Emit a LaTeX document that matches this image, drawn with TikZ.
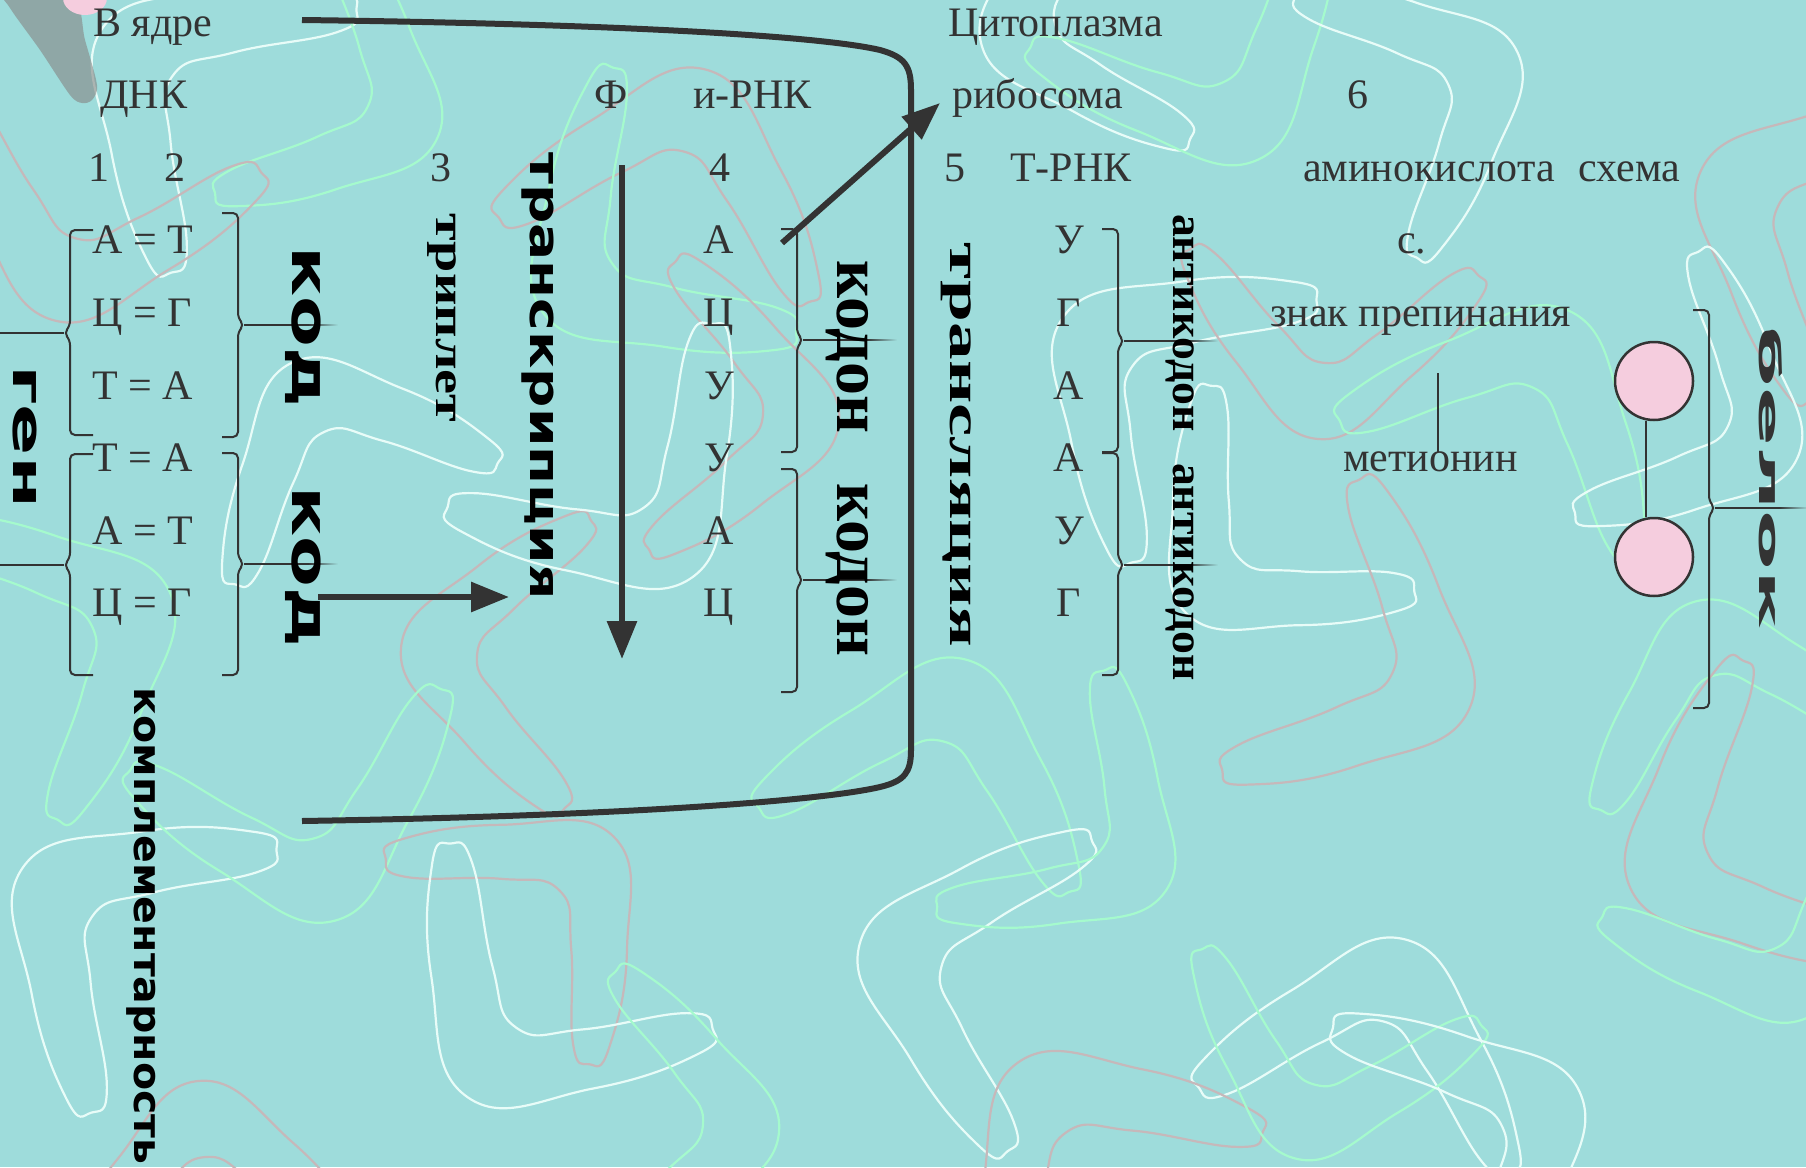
\documentclass[tikz,border=0pt]{standalone}
\usepackage{fontspec}
\usepackage{graphicx}
\setmainfont{Liberation Serif}
\newfontfamily\widefont{DejaVu Sans}
\usetikzlibrary{arrows.meta}

\definecolor{sea}{RGB}{158,220,219}
\definecolor{ink}{RGB}{51,51,51}
\definecolor{rose}{RGB}{245,205,222}
\definecolor{sqw}{RGB}{232,252,248}
\definecolor{sqg}{RGB}{165,250,205}
\definecolor{sqp}{RGB}{198,184,186}
\definecolor{leaf}{RGB}{133,133,131}

\tikzset{boomerang/.pic={
  \draw[line width=2.2pt] plot[smooth cycle,tension=0.8] coordinates
    {(-15,-15) (110,-30) (220,-10) (238,12) (215,30) (110,32) (45,45)
     (32,110) (30,215) (10,238) (-12,220) (-28,110)};
}}

\begin{document}
\begin{tikzpicture}[x=1pt,y=-1pt,>={Triangle[length=38pt,width=29pt]},
    txt/.style={inner sep=0pt,text=ink,font=\fontsize{42}{48}\selectfont},
    sansword/.style={inner sep=0pt,rotate=-90,anchor=base,text=black,
                     font=\widefont\bfseries\fontsize{#1}{#1}\selectfont},
    serifword/.style={inner sep=0pt,rotate=-90,anchor=base,text=black,
                      font=\bfseries\fontsize{#1}{#1}\selectfont},
    thick arrow/.style={->,line width=6pt,draw=ink,fill=ink},
    brace line/.style={line width=2pt,draw=ink,rounded corners=5pt},
    ball/.style={circle,draw=ink,line width=2.5pt,fill=rose,minimum size=78pt,inner sep=0pt}]

  \fill[sea] (0,0) rectangle (1806,1167);
  \useasboundingbox (0,0) rectangle (1806,1167);

  % background squiggles
  \begin{scope}
    \clip (0,0) rectangle (1806,1167);
    \foreach \x/\y/\a/\s/\c in {120/40/10/1.0/sqw, 420/130/200/0.9/sqg, 700/90/300/1.0/sqp,
        1000/40/60/0.9/sqw, 1250/140/160/1.0/sqg, 1500/60/250/0.9/sqw, 1720/180/20/1.0/sqp,
        60/300/120/1.0/sqp, 300/380/340/0.9/sqw, 560/300/80/1.0/sqg, 820/420/220/0.9/sqp,
        1080/330/10/1.0/sqw, 1320/420/130/0.9/sqp, 1560/330/290/1.0/sqg, 1780/450/200/0.9/sqw,
        150/600/250/1.0/sqg, 420/650/40/0.9/sqp, 680/560/170/1.0/sqw, 960/680/300/1.0/sqg,
        1200/600/90/0.9/sqw, 1450/700/200/1.0/sqp, 1700/620/330/0.9/sqg, 40/880/10/1.0/sqw,
        330/900/150/1.0/sqg, 600/850/270/0.9/sqp, 880/950/30/1.0/sqw, 1150/880/190/0.9/sqg,
        1400/960/300/1.0/sqw, 1650/880/70/1.0/sqp, 200/1100/320/0.9/sqp, 480/1080/100/1.0/sqw,
        760/1130/220/0.9/sqg, 1030/1080/350/1.0/sqp, 1300/1140/120/0.9/sqg, 1560/1100/250/1.0/sqw,
        1800/1000/160/0.9/sqg}
      \pic[rotate=\a,scale=\s,color=\c] at (\x,\y) {boomerang};
  \end{scope}

  % corner blot
  \fill[leaf,opacity=0.6] plot[smooth cycle] coordinates
    {(7,-5) (72,-5) (85,40) (97,85) (92,100) (82,103) (70,95) (40,50) (10,8)};
  \fill[rose] (85,-2) ellipse [x radius=22pt,y radius=17pt];

  % nucleus / cytoplasm border
  \coordinate (topL) at (302,20);
  \coordinate (botL) at (302,821);
  \draw[line width=6pt,ink] (topL) .. controls (620,24) and (820,36) .. (880,50)
    .. controls (905,57) and (911,66) .. (911,90) -- (911,750)
    .. controls (911,772) and (905,781) .. (880,787)
    .. controls (820,801) and (620,816) .. (botL);

  % labels
  \node[txt,anchor=base west] (yadro) at (93,36) {В ядре};
  \node[txt,anchor=base west] (cyto)  at (948,36) {Цитоплазма};
  \node[txt,anchor=base west] (dna)   at (100,108.6) {ДНК};
  \node[txt,anchor=base]      (phi)   at (611,108.6) {Ф};
  \node[txt,anchor=base west] (irna)  at (693,108.6) {и-РНК};
  \node[txt,anchor=base west] (ribo)  at (952,108.6) {рибосома};
  \node[txt,anchor=base]      (n6)    at (1358,108.6) {6};
  \node[txt,anchor=base]      (n1)    at (99,181.2) {1};
  \node[txt,anchor=base]      (n2)    at (175,181.2) {2};
  \node[txt,anchor=base]      (n3)    at (441,181.2) {3};
  \node[txt,anchor=base]      (n4)    at (720,181.2) {4};
  \node[txt,anchor=base]      (n5)    at (955,181.2) {5};
  \node[txt,anchor=base west] (trna)  at (1010,181.2) {Т-РНК};
  \node[txt,anchor=base west] (amino) at (1303,181.2) {аминокислота\hspace{24pt}схема};
  \node[txt,anchor=base west] (dot)   at (1397,253.8) {с.};
  \node[txt,anchor=base west] (znak)  at (1270,326.4) {знак препинания};
  \node[txt,anchor=base west] (met)   at (1343,471.6) {метионин};

  % DNA pairs
  \node[txt,anchor=base west] (d1) at (92,253.8) {А = Т};
  \node[txt,anchor=base west] (d2) at (92,326.4) {Ц = Г};
  \node[txt,anchor=base west] (d3) at (92,399) {Т = А};
  \node[txt,anchor=base west] (d4) at (92,471.6) {Т = А};
  \node[txt,anchor=base west] (d5) at (92,544.2) {А = Т};
  \node[txt,anchor=base west] (d6) at (92,616.8) {Ц = Г};

  % mRNA
  \node[txt,anchor=base] (m1) at (719,253.8) {А};
  \node[txt,anchor=base] (m2) at (719,326.4) {Ц};
  \node[txt,anchor=base] (m3) at (719,399) {У};
  \node[txt,anchor=base] (m4) at (719,471.6) {У};
  \node[txt,anchor=base] (m5) at (719,544.2) {А};
  \node[txt,anchor=base] (m6) at (719,616.8) {Ц};

  % tRNA
  \node[txt,anchor=base] (t1) at (1069,253.8) {У};
  \node[txt,anchor=base] (t2) at (1069,326.4) {Г};
  \node[txt,anchor=base] (t3) at (1069,399) {А};
  \node[txt,anchor=base] (t4) at (1069,471.6) {А};
  \node[txt,anchor=base] (t5) at (1069,544.2) {У};
  \node[txt,anchor=base] (t6) at (1069,616.8) {Г};

  % braces
  \foreach \t/\m/\b in {230/333/435, 454/565/675}{
    \draw[brace line] (93,\t) -- (70,\t) -- (70,{\m-7}) -- (64,\m) -- (70,{\m+7}) -- (70,\b) -- (93,\b);
    \draw[line width=1.5pt,ink] (64,\m) -- (0,\m);
  }
  \foreach \x/\t/\m/\b in {238/213/325/437, 238/453/564/675, 797/229/340/452, 797/469/580/692,
                           1118/229/341/452, 1118/453/565/675, 1709/310/508/708}{
    \draw[brace line] ({\x-16},\t) -- (\x,\t) -- (\x,{\m-7}) -- ({\x+6},\m) -- (\x,{\m+7}) -- (\x,\b) -- ({\x-16},\b);
    \draw[line width=1.5pt,ink] ({\x+6},\m) -- ({\x+70},\m);
    \shade[left color=ink,right color=sea] ({\x+70},{\m-0.75}) rectangle ({\x+100},{\m+0.75});
  }

  % vertical words
  \node[sansword=42]  (gen)    at (13,437)   {\scalebox{1.8}[1]{ген}};
  \node[sansword=51]  (kod1)   at (292,327)  {\scalebox{1.45}[1]{код}};
  \node[sansword=51]  (kod2)   at (292,567)  {\scalebox{1.45}[1]{код}};
  \node[serifword=42] (trip)   at (436,318)  {\scalebox{1.34}[1]{триплет}};
  \node[sansword=42]  (transc) at (530,376)  {\scalebox{1.31}[1]{транскрипция}};
  \node[sansword=38]  (kompl)  at (134,926)  {\scalebox{1.08}[1]{комплементарность}};
  \node[serifword=66] (kodon1) at (837,347)  {кодон};
  \node[serifword=66] (kodon2) at (837,570)  {кодон};
  \node[serifword=44] (transl) at (950,445)  {\scalebox{1.71}[1]{трансляция}};
  \node[serifword=44] (anti1)  at (1173,323) {\scalebox{1.04}[1]{антикодон}};
  \node[serifword=44] (anti2)  at (1173,572) {\scalebox{1.04}[1]{антикодон}};
  \node[sansword=29,text=ink] (belok) at (1759,478) {\scalebox{3}[1]{белок}};

  % arrows
  \coordinate (a1) at (782,243);
  \coordinate (a2) at (940,103);
  \coordinate (v1) at (622,165);
  \coordinate (v2) at (622,659);
  \coordinate (h1) at (318,597);
  \coordinate (h2) at (509,597);
  \draw[thick arrow] (a1) -- (a2);
  \draw[thick arrow] (v1) -- (v2);
  \draw[thick arrow] (h1) -- (h2);

  % protein
  \node[ball] (c1) at (1654,381) {};
  \node[ball] (c2) at (1654,557) {};
  \draw[line width=2pt,ink] ([xshift=-8pt]c1.south) -- ([xshift=-8pt]c2.north);
  \coordinate (mt) at (1438,373);
  \draw[line width=2pt,ink] (mt) -- (mt |- met.north);
\end{tikzpicture}
\end{document}
